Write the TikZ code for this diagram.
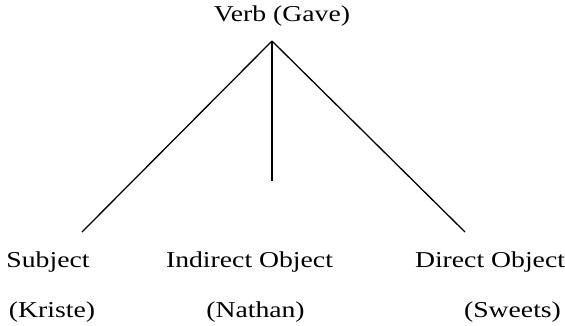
\documentclass[tikz,border=0pt]{standalone}
\usepackage{fontspec}
\setmainfont{Liberation Serif}
\usetikzlibrary{positioning}
\newcommand{\wideword}[1]{\scalebox{1.22}[1]{#1}}
\tikzset{
  word/.style={font=\fontsize{22.7}{27}\selectfont, inner sep=0pt, anchor=base},
  branch/.style={line width=1.3pt}
}

\begin{document}
\begin{tikzpicture}[x=1pt, y=-1pt]
  \useasboundingbox (0,0) rectangle (565,325);
  \node[word] (verb) at (282,21) {\wideword{Verb (Gave)}};
  \node[word] (subj) at (48,267) {\wideword{Subject}};
  \node[word] (indobj) at (249.5,267) {\wideword{Indirect Object}};
  \node[word] (dirobj) at (490,267) {\wideword{Direct Object}};
  \node[word] (kriste) at (52,317) {\wideword{(Kriste)}};
  \node[word] (nathan) at (255.5,317) {\wideword{(Nathan)}};
  \node[word] (sweets) at (512.5,317) {\wideword{(Sweets)}};
  \coordinate (apex) at (272,41);
  \coordinate (subjend) at (82,232);
  \coordinate (indend) at (272,181);
  \coordinate (dirend) at (465,232);
  \draw[branch] (apex) -- (subjend);
  \draw[branch] (apex) -- (indend);
  \draw[branch] (apex) -- (dirend);
\end{tikzpicture}
\end{document}
